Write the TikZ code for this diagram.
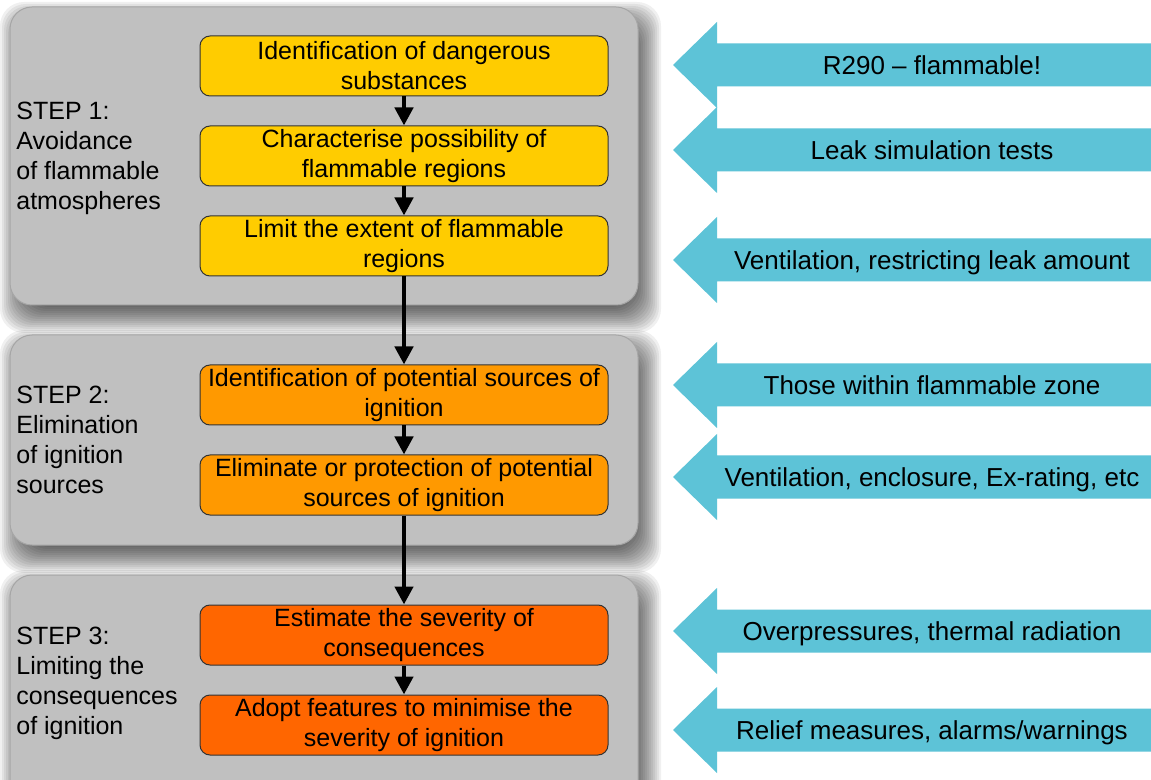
\documentclass[tikz,border=0pt]{standalone}
\usepackage{fontspec}
\setmainfont{Liberation Sans}
\usetikzlibrary{arrows.meta}
\definecolor{panelgray}{HTML}{C0C0C0}
\definecolor{stepyellow}{HTML}{FFCC00}
\definecolor{steporange}{HTML}{FF9900}
\definecolor{stepred}{HTML}{FF6600}
\definecolor{hintcyan}{HTML}{5DC3D7}

\begin{document}
\begin{tikzpicture}[x=0.5pt,y=-0.5pt,
    panel/.style={draw=black!35,line width=0.5pt,fill=panelgray,rounded corners=11pt},
    panelshadow/.style={fill=black,opacity=0.06,rounded corners=12pt},
    stepbox/.style={draw=black!80,line width=0.5pt,rounded corners=5pt,minimum width=204pt,
      minimum height=30pt,inner sep=0pt,align=center,font=\fontsize{12.5}{15}\selectfont},
    steplabel/.style={anchor=west,align=left,inner sep=0pt,font=\fontsize{12.5}{15}\selectfont},
    flow/.style={line width=2.2pt,-{Triangle[length=9pt,width=9pt]}},
    hinttext/.style={inner sep=0pt,text height=9.3pt,text depth=0pt,font=\fontsize{13}{15}\selectfont}]
      \path[use as bounding box,clip] (0,0) rectangle (1151,780);
      \fill[white] (0,0) rectangle (1151,780);
      % soft shadows under the three steps
      \foreach \top/\bot in {7/305,335/545,575/815}
        \foreach \e in {-12,-10,...,16}
          \fill[panelshadow] ({16-(\e)},{\top+11-(\e)}) rectangle ({645+\e},{\bot+12+\e});
      % the three steps
      \draw[panel] (10,7) rectangle (638,305);
      \draw[panel] (10,335) rectangle (638,545);
      \draw[panel] (10,575) rectangle (638,815);
      \node[steplabel] (s1) at (16,158) {STEP 1:\\Avoidance\\of flammable\\atmospheres};
      \node[steplabel] (s2) at (16,440) {STEP 2:\\Elimination\\of ignition\\sources};
      \node[steplabel] (s3) at (16,683) {STEP 3:\\Limiting the\\consequences\\of ignition};
      \node[stepbox,fill=stepyellow] (b1) at (404,66) {Identification of dangerous\\substances};
      \node[stepbox,fill=stepyellow] (b2) at (404,156) {Characterise possibility of\\flammable regions};
      \node[stepbox,fill=stepyellow] (b3) at (404,246) {Limit the extent of flammable\\regions};
      \node[stepbox,fill=steporange] (b4) at (404,395) {Identification of potential sources of\\ignition};
      \node[stepbox,fill=steporange] (b5) at (404,485) {Eliminate or protection of potential\\sources of ignition};
      \node[stepbox,fill=stepred] (b6) at (404,635) {Estimate the severity of\\consequences};
      \node[stepbox,fill=stepred] (b7) at (404,725) {Adopt features to minimise the\\severity of ignition};
      \draw[flow] (b1) -- (b2);
      \draw[flow] (b2) -- (b3);
      \draw[flow] (b3) -- (b4);
      \draw[flow] (b4) -- (b5);
      \draw[flow] (b5) -- (b6);
      \draw[flow] (b6) -- (b7);
      % hints on the right
      \foreach \y/\t [count=\i] in {65/{R290 – flammable!},150/{Leak simulation tests},
          260/{Ventilation, restricting leak amount},385/{Those within flammable zone},
          477/{Ventilation, enclosure, Ex-rating, etc},631/{Overpressures, thermal radiation},
          730/{Relief measures, alarms/warnings}} {
        \fill[hintcyan] (673,\y) -- (717,\y-43) -- (717,\y-21.5) -- (1160,\y-21.5)
          -- (1160,\y+21.5) -- (717,\y+21.5) -- (717,\y+43) -- cycle;
        \node[hinttext] (h\i) at (932,\y) {\t};
      }
    \end{tikzpicture}
\end{document}
